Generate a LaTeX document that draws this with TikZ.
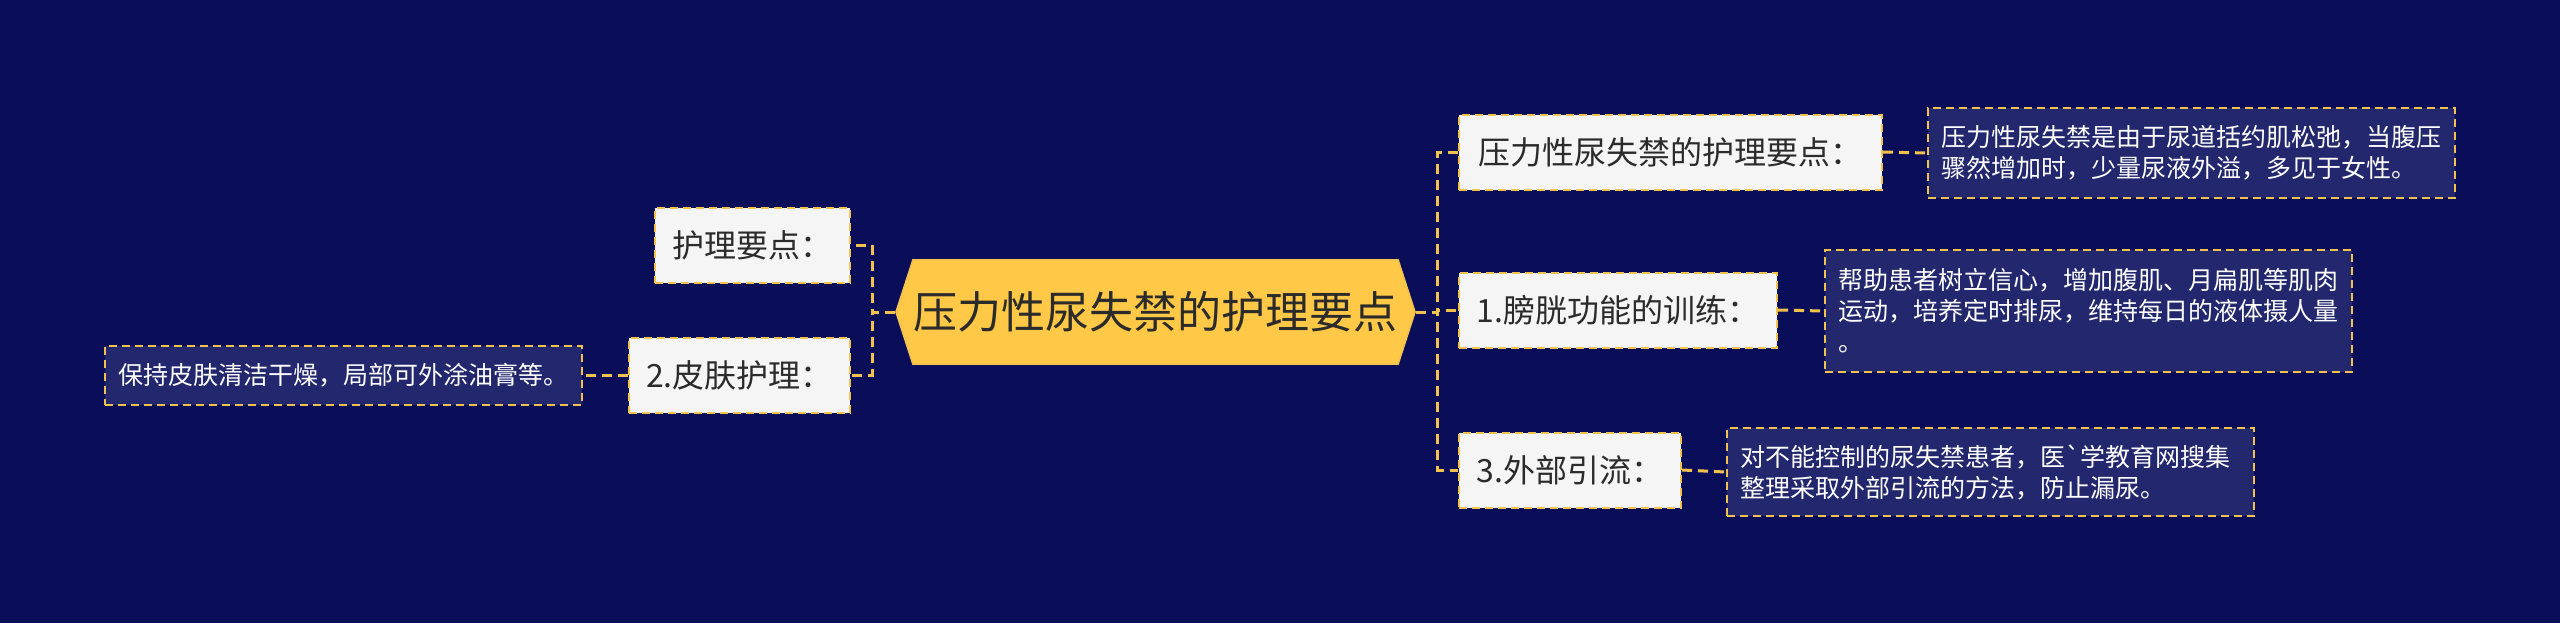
\documentclass[tikz,border=0pt]{standalone}
\usepackage{fontspec}
\setmainfont{Noto Sans CJK SC}
\font\gravefont="Noto Sans CJK SC" at 12.5pt
\usetikzlibrary{shapes.symbols}
\definecolor{bgnavy}{HTML}{0A0D58}
\definecolor{rootyellow}{HTML}{FFC846}
\definecolor{lineyellow}{HTML}{F2C24E}
\definecolor{topicgray}{HTML}{F5F5F5}
\definecolor{notenavy}{HTML}{22276E}
\definecolor{inkdark}{HTML}{2B2B2B}
\begin{document}
\begin{tikzpicture}[x=0.5pt,y=-0.5pt,
    root/.style={shape=signal,signal to=west and east,signal pointer angle=144,fill=rootyellow,draw=lineyellow,line width=0.8pt,minimum width=259.5pt,minimum height=52pt,inner sep=0pt,text=inkdark,font=\fontsize{22}{26}\selectfont},
    topic/.style={fill=topicgray,draw=lineyellow,line width=1pt,dash pattern=on 4pt off 2.5pt,minimum height=37.5pt,inner sep=0pt,text=inkdark,font=\fontsize{16}{19}\selectfont},
    note/.style={fill=notenavy,draw=lineyellow,line width=1pt,dash pattern=on 4pt off 2.5pt,inner xsep=6.75pt,inner ysep=6pt,text=white,align=left,font=\fontsize{12.5}{15.5}\selectfont},
    widenote/.style={note,text width=250pt},
    link/.style={draw=lineyellow,line width=1.5pt,dash pattern=on 5pt off 3pt}]
    \fill[bgnavy](0,0)rectangle(2560,623);
    \useasboundingbox(0,0)rectangle(2560,623);
    \node[root](root)at(1155.5,312){压力性尿失禁的护理要点};
    % right branch
    \node[topic,anchor=west,minimum width=211.5pt](b1)at(1458,152){压力性尿失禁的护理要点：};
    \node[topic,anchor=west,minimum width=159pt](b2)at(1458,310){1.膀胱功能的训练：};
    \node[topic,anchor=west,minimum width=111pt](b3)at(1458,470){3.外部引流：};
    \node[widenote,anchor=west,minimum height=45pt](n1)at(1927,153){压力性尿失禁是由于尿道括约肌松弛，当腹压\\骤然增加时，少量尿液外溢，多见于女性。};
    \node[widenote,anchor=west,minimum height=61pt](n2)at(1824,311){帮助患者树立信心，增加腹肌、月扁肌等肌肉\\运动，培养定时排尿，维持每日的液体摄人量\\。};
    \node[widenote,anchor=west,minimum height=44pt](n3)at(1726,472){对不能控制的尿失禁患者，医{\gravefont`}学教育网搜集\\整理采取外部引流的方法，防止漏尿。};
    % left branch
    \node[topic,anchor=east,minimum width=97.5pt](l1)at(851,245){护理要点：};
    \node[topic,anchor=east,minimum width=110.5pt](l2)at(851,375){2.皮肤护理：};
    \node[note,anchor=east,minimum height=29.5pt](nl)at(583,375){保持皮肤清洁干燥，局部可外涂油膏等。};
    \foreach \t in {b1,b2,b3}
        \draw[link](root.east)--++(22,0)|-(\t.west);
    \foreach \t in {l1,l2}
        \draw[link](root.west)--++(-23,0)|-(\t.east);
    \draw[link](b1.east)--(n1.west);
    \draw[link](b2.east)--(n2.west);
    \draw[link](b3.east)--(n3.west);
    \draw[link](l2.west)--(nl.east);
\end{tikzpicture}
\end{document}
